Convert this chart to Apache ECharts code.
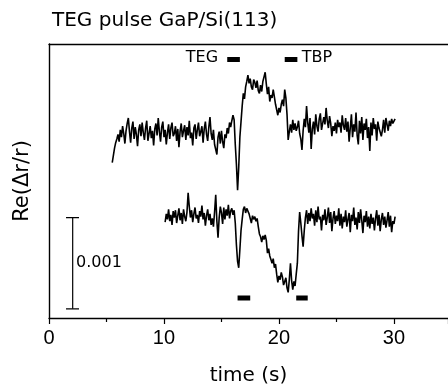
<!DOCTYPE html>
<html>
<head>
<meta charset="utf-8">
<script src="https://cdn.jsdelivr.net/npm/echarts@6/dist/echarts.min.js"></script>
<style>
  html, body { margin: 0; padding: 0; background: #fff; }
  #chart { width: 448px; height: 387px; }
</style>
</head>
<body>
<div id="chart"></div>
<script>
// time axis: samples every 0.1 s, values in units of 1e-4 (scale bar = 10 units = 0.001)
var step = 0.1;
var upperStart = 5.5;
var upperValues = [
  17.0, 17.8, 18.6, 19.2, 19.6,
  20.1, 19.3, 20.6, 19.8, 21.0, 20.2, 19.1, 20.5, 21.3, 21.9,
  20.4, 19.2, 20.8, 21.5, 19.6, 20.9, 20.1, 18.8, 20.6, 21.2,
  19.9, 21.4, 20.3, 19.5, 20.8, 21.6, 19.4, 20.2, 21.0, 19.7,
  20.5, 18.9, 20.7, 21.3, 20.0, 21.9, 20.4, 19.3, 20.9, 21.5,
  19.8, 20.6, 19.0, 20.3, 21.2, 19.6, 20.8, 21.4, 19.9, 20.2,
  21.0, 19.4, 20.7, 18.7, 20.4, 21.3, 19.8, 20.5, 21.1, 19.5,
  20.9, 20.0, 21.6, 19.7, 20.3, 18.9, 20.8, 21.2, 19.6, 20.6,
  21.4, 19.9, 20.4, 21.0, 19.2, 20.7, 21.5, 20.1, 19.4, 20.9,
  22.0, 20.2, 19.5, 20.6, 19.0, 18.8, 17.9, 19.8, 20.4, 19.1,
  20.5, 19.3, 18.6, 20.1, 19.7, 20.8, 20.2, 21.4, 20.9, 21.6,
  22.2, 21.7, 19.0, 16.8, 14.0, 16.5, 19.8, 21.5, 23.2, 24.6,
  24.0, 25.3, 25.9, 26.6, 25.7, 26.2, 25.3, 25.0, 26.1, 25.8,
  25.2, 26.0, 24.9, 24.6, 25.5, 24.8, 25.9, 26.4, 26.9, 25.6,
  24.5, 25.3, 23.7, 24.4, 24.1, 25.0, 24.2, 23.4, 22.8, 22.2,
  23.0, 22.5, 23.4, 23.9, 23.2, 25.0, 24.1, 22.3, 19.5, 20.4,
  21.2, 20.3, 21.7, 20.6, 21.3, 20.5, 20.9, 21.6, 20.2, 19.6,
  18.4, 20.5, 21.8, 20.9, 23.2, 21.4, 20.3, 21.9, 18.5, 20.7,
  21.5, 20.1, 22.3, 21.0, 20.4, 21.8, 22.4, 20.6, 21.3, 22.0,
  21.2, 23.0, 21.6, 20.8, 22.1, 21.3, 19.9, 21.0, 20.5, 21.4,
  20.2, 21.7, 20.9, 21.4, 20.3, 22.2, 21.1, 20.6, 21.9, 20.4,
  21.5, 19.3, 20.8, 22.3, 19.8, 21.2, 20.4, 22.5, 20.0, 19.0,
  21.6, 20.2, 22.0, 19.5, 21.3, 20.6, 21.8, 19.7, 20.9, 18.3,
  21.4, 20.0, 21.9, 20.7, 21.2, 19.4, 21.5, 20.8, 21.0, 19.9,
  20.6, 21.7, 20.3, 21.9, 21.2, 20.5, 21.6, 21.0, 21.8, 21.3,
  21.5, 21.8
];
var lowerStart = 10.1;
var lowerValues = [
  10.5, 11.4, 10.8, 11.9, 10.6, 11.3, 10.2, 11.7, 11.0,
  11.8, 10.4, 11.2, 12.0, 10.7, 11.5, 10.3, 11.9, 11.1, 10.6,
  11.6, 13.7, 12.2, 11.0, 11.8, 10.5, 11.4, 12.1, 10.9, 11.3,
  10.4, 11.7, 11.1, 12.3, 10.8, 11.5, 10.1, 11.2, 11.9, 10.7,
  11.4, 10.2, 10.9, 10.0, 11.6, 13.5, 10.6, 8.8, 11.0, 12.2,
  11.5, 10.3, 12.1, 10.8, 11.9, 11.2, 12.4, 10.9, 11.7, 12.0,
  11.3, 11.8, 10.4, 8.0, 6.2, 5.5, 7.5, 9.6, 10.8, 11.9,
  12.2, 11.5, 12.0, 12.2, 11.4, 11.6, 10.4, 11.2, 10.8, 11.1,
  10.6, 10.9, 10.0, 9.2, 8.9, 8.3, 9.0, 8.6, 9.1, 8.5,
  7.1, 7.6, 6.8, 6.4, 6.0, 6.5, 5.5, 5.9, 4.8, 3.9,
  4.6, 4.2, 5.0, 4.5, 3.6, 3.8, 4.4, 3.3, 2.8, 4.2,
  6.0, 4.1, 3.1, 4.0, 3.5, 4.8, 6.0, 9.5, 11.6, 10.4,
  9.0, 7.8, 9.6, 11.0, 11.8, 10.3, 11.5, 10.6, 12.0, 10.9,
  11.4, 10.1, 11.8, 10.5, 12.2, 10.8, 11.1, 9.6, 11.3, 10.7,
  11.9, 10.2, 11.0, 12.1, 10.4, 11.6, 9.5, 10.9, 11.7, 10.3,
  11.2, 10.6, 12.0, 10.1, 11.4, 9.8, 11.1, 10.5, 11.8, 10.0,
  10.8, 11.5, 9.4, 11.3, 10.6, 12.1, 10.2, 11.0, 9.7, 11.6,
  10.4, 11.9, 10.7, 9.3, 11.2, 10.5, 11.7, 10.0, 11.1, 9.8,
  11.4, 10.3, 11.0, 9.6, 10.9, 11.8, 10.1, 11.3, 9.5, 10.8,
  11.5, 10.2, 11.1, 9.9, 10.7, 11.6, 10.0, 11.2, 9.4, 10.6,
  10.3, 11.1
];
// pulse markers [tStart, tEnd, level]
var pulseMarks = [
  [15.5, 16.6, 28.3],
  [20.5, 21.6, 28.3],
  [16.4, 17.5, 2.2],
  [21.5, 22.5, 2.2]
];
var pulseLabels = [
  [13.3, 28.5, 'TEG'],
  [23.3, 28.5, 'TBP']
];
// scale bar 0.001
var scaleBarX = 2.06;
var scaleBarCaps = [1.48, 2.61];
var scaleBarRange = [1, 11];
var scaleBarLabel = [2.35, 6.0, '0.001'];

var xTicks = [0, 10, 20, 30];

function toPairs(start, vals) {
  var out = [];
  for (var i = 0; i < vals.length; i++) {
    out.push([Math.round(start * 10 + i) / 10, vals[i]]);
  }
  return out;
}

var blackLine = { color: '#000', width: 1.6 };
var series = [
  {
    type: 'line', data: toPairs(upperStart, upperValues), showSymbol: false,
    lineStyle: blackLine, silent: true
  },
  {
    type: 'line', data: toPairs(lowerStart, lowerValues), showSymbol: false,
    lineStyle: blackLine, silent: true
  },
  {
    type: 'line', showSymbol: false, silent: true,
    lineStyle: { color: '#000', width: 1.2 },
    data: [[scaleBarX, scaleBarRange[0]], [scaleBarX, scaleBarRange[1]]]
  },
  {
    type: 'line', showSymbol: false, silent: true,
    lineStyle: { color: '#000', width: 1.2 },
    data: [[scaleBarCaps[0], scaleBarRange[0]], [scaleBarCaps[1], scaleBarRange[0]]]
  },
  {
    type: 'line', showSymbol: false, silent: true,
    lineStyle: { color: '#000', width: 1.2 },
    data: [[scaleBarCaps[0], scaleBarRange[1]], [scaleBarCaps[1], scaleBarRange[1]]]
  },
  {
    type: 'scatter', symbolSize: 0, silent: true,
    itemStyle: { opacity: 1 },
    data: [scaleBarLabel],
    label: {
      show: true, position: 'right', distance: 0, formatter: function (p) { return p.data[2]; },
      color: '#000', opacity: 1, fontFamily: 'DejaVu Sans', fontSize: 16
    }
  },
  {
    type: 'scatter', symbolSize: 0, silent: true,
    itemStyle: { opacity: 1 },
    data: pulseLabels,
    label: {
      show: true, position: 'inside', formatter: function (p) { return p.data[2]; },
      color: '#000', opacity: 1, fontFamily: 'DejaVu Sans', fontSize: 16
    }
  }
];
pulseMarks.forEach(function (m) {
  series.push({
    type: 'line', showSymbol: false, silent: true,
    lineStyle: { color: '#000', width: 5, cap: 'butt' },
    data: [[m[0], m[2]], [m[1], m[2]]]
  });
});

var chart = echarts.init(document.getElementById('chart'));
chart.setOption({
  animation: false,
  backgroundColor: '#fff',
  title: {
    text: 'TEG pulse GaP/Si(113)',
    left: 47, top: 6,
    textStyle: { color: '#000', fontFamily: 'DejaVu Sans', fontSize: 20, fontWeight: 'normal' }
  },
  grid: { left: 49, top: 44, right: 0, bottom: 69, outerBoundsMode: 'none' },
  xAxis: [
    {
      type: 'value', min: 0, max: 34.7, interval: 10,
      name: 'time (s)', nameLocation: 'middle', nameGap: 48,
      nameTextStyle: { color: '#000', fontFamily: 'DejaVu Sans', fontSize: 20 },
      axisLine: { show: true, lineStyle: { color: '#000', width: 1.4 } },
      axisTick: { show: true, length: 6, lineStyle: { color: '#000', width: 1.2 } },
      minorTick: { show: true, splitNumber: 2, length: 4, lineStyle: { color: '#000', width: 1.2 } },
      splitLine: { show: false },
      axisLabel: {
        color: '#000', fontFamily: 'Liberation Sans', fontSize: 20, margin: 10,
        customValues: xTicks
      }
    },
    {
      type: 'value', min: 0, max: 34.7, position: 'top',
      axisLine: { show: true, lineStyle: { color: '#000', width: 1.4 } },
      axisTick: { show: false }, axisLabel: { show: false }, splitLine: { show: false }
    }
  ],
  yAxis: {
    type: 'value', min: 0, max: 30,
    name: 'Re(\u0394r/r)', nameLocation: 'middle', nameGap: 16, nameRotate: 90,
    nameTextStyle: { color: '#000', fontFamily: 'DejaVu Sans', fontSize: 21 },
    axisLine: { show: true, lineStyle: { color: '#000', width: 1.4 } },
    axisTick: { show: false }, axisLabel: { show: false }, splitLine: { show: false }
  },
  series: series
});
</script>
</body>
</html>
